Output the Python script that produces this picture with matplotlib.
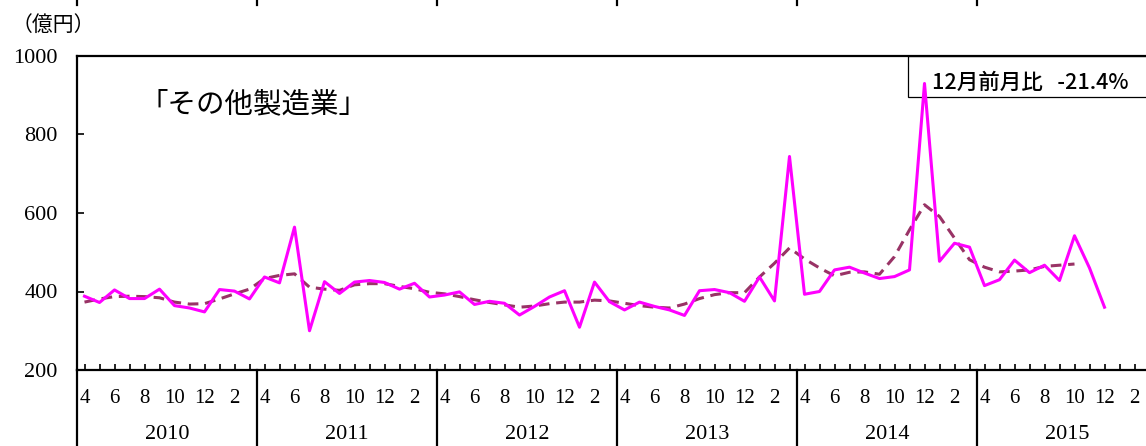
import numpy as np
import matplotlib
matplotlib.use("Agg")
import matplotlib.pyplot as plt
from matplotlib.patches import Rectangle
from matplotlib.lines import Line2D
from matplotlib.transforms import blended_transform_factory

# その他製造業: 月次 (2010年4月 ～ 2015年12月), 億円
actual = [388, 372, 404, 382, 382, 406, 364, 358, 348, 405, 401, 381,
          437, 422, 564, 300, 425, 395, 424, 428, 423, 406, 421, 386,
          391, 399, 367, 375, 370, 340, 362, 386, 402, 309, 424, 374,
          353, 373, 362, 353, 339, 402, 405, 397, 375, 437, 376, 744,
          393, 400, 455, 462, 447, 433, 438, 455, 930, 477, 523, 513,
          415, 430, 480, 448, 467, 428, 542, 460, 360]

# 傾向線 (2010年4月 ～ 2015年10月)
trend = [373, 381, 387, 388, 387, 384, 373, 368, 369, 381, 394, 406,
         433, 441, 445, 411, 406, 403, 417, 420, 420, 413, 407, 398,
         394, 387, 379, 372, 366, 360, 363, 369, 373, 373, 378, 376,
         370, 364, 360, 358, 368, 382, 392, 397, 397, 437, 472, 511,
         483, 460, 440, 449, 450, 444, 489, 557, 621, 591, 536, 481,
         462, 450, 452, 455, 464, 467, 470]

years = ["2010", "2011", "2012", "2013", "2014", "2015"]
month_labels = ["4", "", "6", "", "8", "", "10", "", "12", "", "2", ""] * len(years)
yticks = [200, 400, 600, 800, 1000]

serif = "Liberation Serif"
jp = ["Noto Sans CJK JP", "DejaVu Sans"]

W, H = 1146, 446
fig = plt.figure(figsize=(W / 100, H / 100), dpi=100)
# 右端は画像の外まで伸びている
ax = fig.add_axes([77 / W, (H - 370) / H, 1080 / W, 314 / H])

ax.plot(range(len(actual)), actual, color="#ff00ff", lw=2.2, zorder=4)
ax.plot(range(len(trend)), trend, color="#993366", lw=2.2,
        linestyle=(0, (3.5, 2.2)), zorder=3)

ax.set_xlim(-0.5, 12 * len(years) - 0.5)
ax.set_ylim(200, 1000)

ax.set_xticks(range(12 * len(years)), labels=month_labels)
ax.set_yticks(yticks)
ax.tick_params(axis="x", direction="in", length=4, width=1.2, pad=14,
               labelsize=15)
ax.tick_params(axis="y", direction="in", length=5, width=1.2, pad=14,
               labelsize=16)
for lab in ax.get_xticklabels() + ax.get_yticklabels():
    lab.set_fontfamily(serif)

for s in ["left", "top", "bottom"]:
    ax.spines[s].set_linewidth(1.6)
ax.spines["right"].set_visible(False)

# 年の区切り線と年ラベル
for k, y in enumerate(years):
    xb = -0.5 + 12 * k
    ax.add_line(Line2D([xb, xb], [0, -0.3], transform=blended_transform_factory(ax.transData, ax.transAxes),
                       color="black", lw=1.6, clip_on=False))
    ax.text(5.5 + 12 * k, -0.207, y, transform=blended_transform_factory(ax.transData, ax.transAxes),
            ha="center", va="center", fontsize=16, family=serif)
    # 上端に見える切れた目盛
    fig.add_artist(Line2D([xb, xb], [1.0, 0.988],
                          transform=blended_transform_factory(ax.transData, fig.transFigure),
                          color="black", lw=1.6))

# 単位
fig.text(12 / W, 1 - 25 / H, "（億円）", ha="left", va="center", fontsize=15, family=jp)

# 業種名
ax.text((140 - 77) / 1080, (370 - 104) / 314, "「その他製造業」", transform=ax.transAxes,
        ha="left", va="center", fontsize=20.5, family=jp)

# 前月比の枠
x0 = (908 - 77) / 1080
y0 = (370 - 97.3) / 314
ax.add_patch(Rectangle((x0, y0), 0.4, 1.0 - y0, transform=ax.transAxes,
                       facecolor="white", edgecolor="black", lw=0.9, clip_on=False, zorder=2))
ax.text((932 - 77) / 1080, (370 - 82.7) / 314, "12月前月比   -21.4%", transform=ax.transAxes,
        ha="left", va="center", fontsize=15.5, fontweight="medium", family=jp, zorder=5)

fig.savefig("out.png", dpi=100)
